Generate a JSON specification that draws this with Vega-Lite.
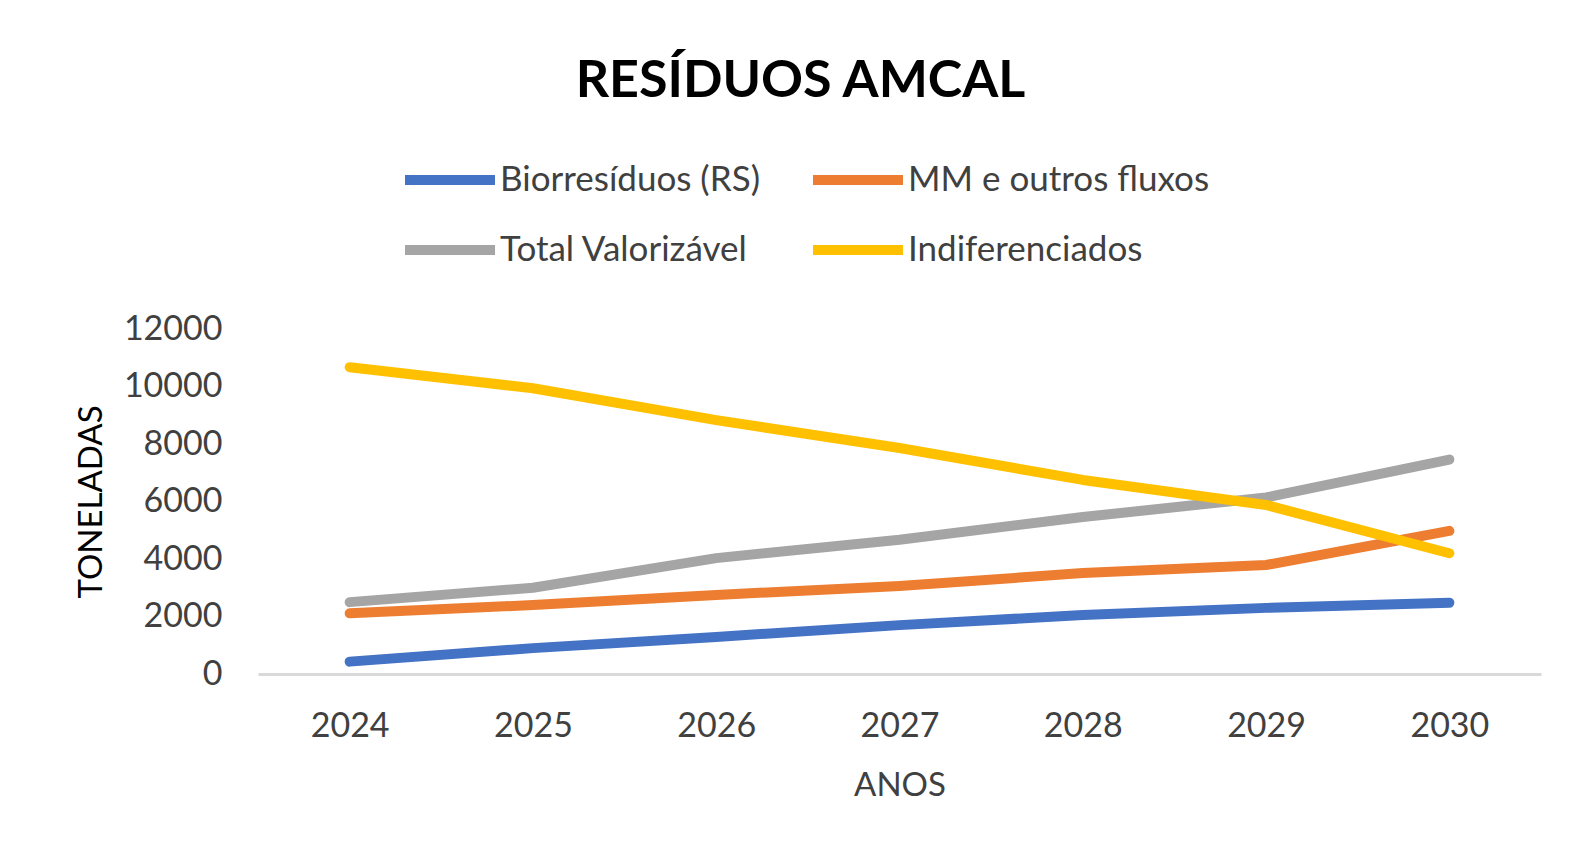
{
  "$schema": "https://vega.github.io/schema/vega-lite/v6.json",
  "autosize": "none",
  "width": 1283,
  "height": 345,
  "padding": {"left": 258, "top": 329, "right": 30, "bottom": 181},
  "background": "white",
  "title": {
    "text": "RESÍDUOS AMCAL",
    "font": "Lato",
    "fontSize": 52,
    "fontWeight": "bold",
    "color": "#000000",
    "anchor": "middle",
    "frame": "group",
    "dx": -99,
    "offset": 22
  },
  "data": {
    "values": [
      {"ano": "2024", "serie": "Biorresíduos (RS)", "t": 430},
      {"ano": "2025", "serie": "Biorresíduos (RS)", "t": 900},
      {"ano": "2026", "serie": "Biorresíduos (RS)", "t": 1290},
      {"ano": "2027", "serie": "Biorresíduos (RS)", "t": 1700},
      {"ano": "2028", "serie": "Biorresíduos (RS)", "t": 2050},
      {"ano": "2029", "serie": "Biorresíduos (RS)", "t": 2300},
      {"ano": "2030", "serie": "Biorresíduos (RS)", "t": 2480},
      {"ano": "2024", "serie": "MM e outros fluxos", "t": 2110},
      {"ano": "2025", "serie": "MM e outros fluxos", "t": 2400},
      {"ano": "2026", "serie": "MM e outros fluxos", "t": 2750},
      {"ano": "2027", "serie": "MM e outros fluxos", "t": 3060},
      {"ano": "2028", "serie": "MM e outros fluxos", "t": 3510},
      {"ano": "2029", "serie": "MM e outros fluxos", "t": 3790},
      {"ano": "2030", "serie": "MM e outros fluxos", "t": 4980},
      {"ano": "2024", "serie": "Total Valorizável", "t": 2500},
      {"ano": "2025", "serie": "Total Valorizável", "t": 3000},
      {"ano": "2026", "serie": "Total Valorizável", "t": 4030},
      {"ano": "2027", "serie": "Total Valorizável", "t": 4670},
      {"ano": "2028", "serie": "Total Valorizável", "t": 5460},
      {"ano": "2029", "serie": "Total Valorizável", "t": 6140},
      {"ano": "2030", "serie": "Total Valorizável", "t": 7460},
      {"ano": "2024", "serie": "Indiferenciados", "t": 10670},
      {"ano": "2025", "serie": "Indiferenciados", "t": 9940},
      {"ano": "2026", "serie": "Indiferenciados", "t": 8830},
      {"ano": "2027", "serie": "Indiferenciados", "t": 7860},
      {"ano": "2028", "serie": "Indiferenciados", "t": 6750},
      {"ano": "2029", "serie": "Indiferenciados", "t": 5880},
      {"ano": "2030", "serie": "Indiferenciados", "t": 4200}
    ]
  },
  "mark": {"type": "line", "strokeWidth": 10, "strokeCap": "round", "strokeJoin": "round"},
  "encoding": {
    "x": {
      "field": "ano",
      "type": "ordinal",
      "scale": {"type": "point", "padding": 0.5},
      "axis": {
        "title": "ANOS",
        "titleFont": "Lato",
        "titleFontSize": 33,
        "titleFontWeight": "normal",
        "titleColor": "#404040",
        "titlePadding": 26,
        "labelAngle": 0,
        "labelFont": "Lato",
        "labelFontSize": 34,
        "labelColor": "#404040",
        "labelPadding": 35,
        "ticks": false,
        "domainColor": "#d9d9d9",
        "domainWidth": 3,
        "grid": false
      }
    },
    "y": {
      "field": "t",
      "type": "quantitative",
      "scale": {"domain": [0, 12000], "nice": false},
      "axis": {
        "title": "TONELADAS",
        "titleFont": "Lato",
        "titleFontSize": 33,
        "titleFontWeight": "normal",
        "titleColor": "#000000",
        "titlePadding": 15,
        "values": [0, 2000, 4000, 6000, 8000, 10000, 12000],
        "format": "d",
        "labelFont": "Lato",
        "labelFontSize": 34,
        "labelColor": "#404040",
        "labelPadding": 36,
        "ticks": false,
        "domain": false,
        "grid": false
      }
    },
    "color": {
      "field": "serie",
      "type": "nominal",
      "scale": {
        "domain": ["Biorresíduos (RS)", "MM e outros fluxos", "Total Valorizável", "Indiferenciados"],
        "range": ["#4472C4", "#ED7D31", "#A5A5A5", "#FFC000"]
      },
      "legend": {
        "title": null,
        "orient": "none",
        "legendX": 142,
        "legendY": -199,
        "columns": 2,
        "direction": "horizontal",
        "symbolType": "stroke",
        "symbolSize": 8100,
        "symbolStrokeWidth": 10,
        "labelFont": "Lato",
        "labelFontSize": 35,
        "labelColor": "#404040",
        "labelOffset": 0,
        "columnPadding": 33,
        "rowPadding": -14,
        "labelLimit": 500
      }
    }
  },
  "config": {"view": {"stroke": null}}
}
